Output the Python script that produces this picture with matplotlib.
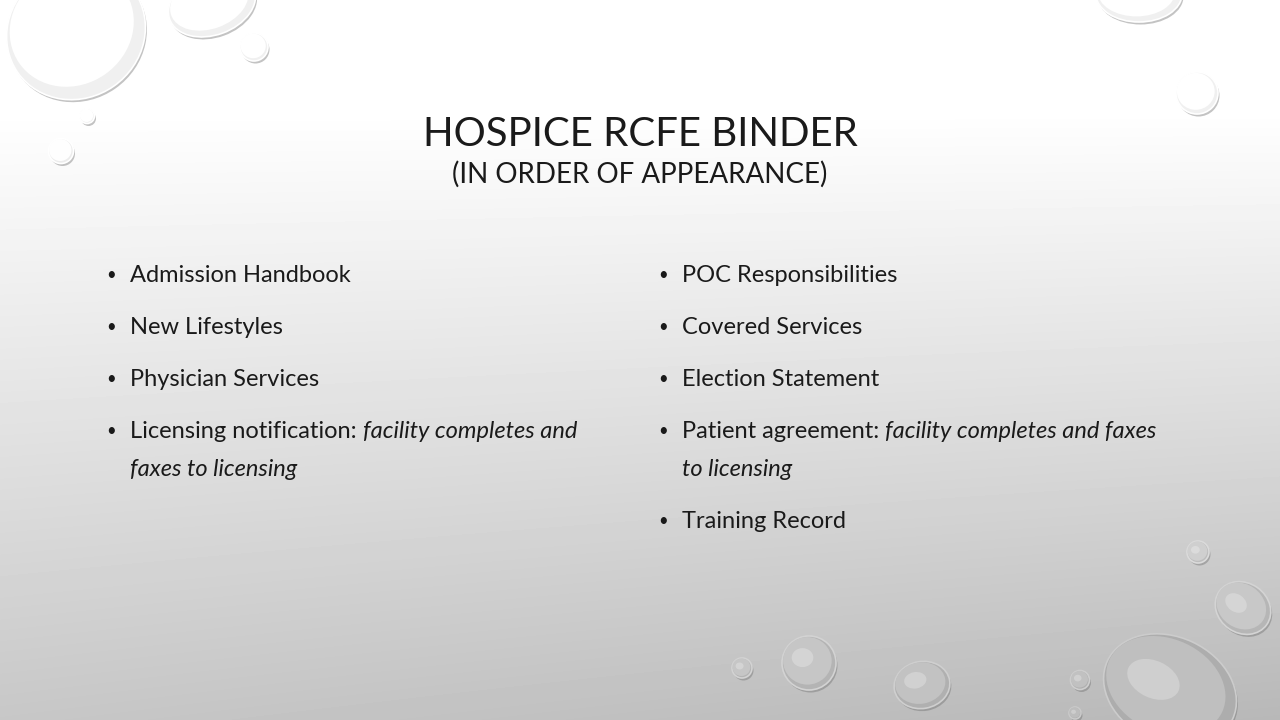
import numpy as np
import matplotlib
matplotlib.use("Agg")
import matplotlib.pyplot as plt
from matplotlib.patches import Ellipse

# slide text
title = "HOSPICE RCFE BINDER"
subtitle = "(IN ORDER OF APPEARANCE)"
left_items = [
    ("Admission Handbook", ""),
    ("New Lifestyles", ""),
    ("Physician Services", ""),
    ("Licensing notification: ", "facility completes and\nfaxes to licensing"),
]
right_items = [
    ("POC Responsibilities", ""),
    ("Covered Services", ""),
    ("Election Statement", ""),
    ("Patient agreement: ", "facility completes and faxes\nto licensing"),
    ("Training Record", ""),
]

# water drops: (cx, cy, width, height, angle) in pixels
drops = [
    (76, 32, 142, 132, -35), (212, 4, 90, 62, -20), (254, 47, 28, 28, 0),
    (87, 116, 15, 15, 0), (61, 151, 25, 25, 0),
    (1139, -6, 86, 56, 0), (1197, 93, 42, 42, 0),
    (1198, 552, 22, 22, 0), (1243, 608, 58, 50, 35), (1170, 690, 138, 106, 25),
    (1080, 680, 19, 19, 0), (1075, 713, 12, 12, 0), (922, 685, 56, 47, -10),
    (809, 663, 54, 54, 0), (742, 668, 20, 20, 0),
]

W, H = 1280, 720
fig = plt.figure(figsize=(12.8, 7.2), dpi=100)
ax = fig.add_axes([0, 0, 1, 1])
ax.set_xlim(0, W)
ax.set_ylim(H, 0)
ax.axis("off")

def bg(x, y):
    t = np.clip((y - 110) / 610.0, 0, 1)
    return 1.0 - 0.22 * t - 0.06 * t * (x / W)

# background gradient
yy, xx = np.mgrid[0:H, 0:W]
ax.imshow(bg(xx, yy), cmap="gray", vmin=0, vmax=1, extent=(0, W, H, 0), zorder=0)

for cx, cy, w, h, a in drops:
    v = float(bg(cx, cy))
    ax.add_patch(Ellipse((cx + 1.5, cy + 2.5), w, h, angle=a, color="#6a6a6a", alpha=0.4, lw=0, zorder=1))
    # darker inner rim, then lighter body
    ax.add_patch(Ellipse((cx, cy), w, h, angle=a, facecolor=str(max(0, v - 0.06)),
                         edgecolor=str(min(1.0, v + 0.06)), lw=1.2, zorder=2))
    ax.add_patch(Ellipse((cx - w * 0.03, cy - h * 0.04), w * 0.9, h * 0.88, angle=a,
                         facecolor=str(min(1.0, v + 0.01)), lw=0, zorder=2.5))
    ax.add_patch(Ellipse((cx - w * 0.12, cy - h * 0.1), w * 0.4, h * 0.35, angle=a,
                         color="white", alpha=0.25, lw=0, zorder=3))

font = "Lato"
txt_color = "#1a1a1a"
ax.text(640, 134, title, ha="center", va="center", fontsize=29, family=font, color=txt_color)
ax.text(640, 174, subtitle, ha="center", va="center", fontsize=20, family=font, color=txt_color)

fig.canvas.draw()
renderer = fig.canvas.get_renderer()

def draw_column(items, x_bullet, x_text, y0, dy=52, wrap=38):
    y = y0
    for regular, italic in items:
        ax.text(x_bullet, y, "\u2022", ha="center", va="center", fontsize=12, family=font, color=txt_color)
        t1 = ax.text(x_text, y, regular, ha="left", va="center", fontsize=17, family=font, color=txt_color)
        if italic:
            bb = t1.get_window_extent(renderer)
            x_end = ax.transData.inverted().transform((bb.x1, bb.y0))[0]
            lines = italic.split("\n")
            ax.text(x_end, y, lines[0], ha="left", va="center", fontsize=17, family=font,
                    style="italic", color=txt_color)
            for ln in lines[1:]:
                y += wrap
                ax.text(x_text, y, ln, ha="left", va="center", fontsize=17, family=font,
                        style="italic", color=txt_color)
        y += dy

draw_column(left_items, 111, 130, 275)
draw_column(right_items, 663, 682, 275)

fig.savefig("out.png", dpi=100)
